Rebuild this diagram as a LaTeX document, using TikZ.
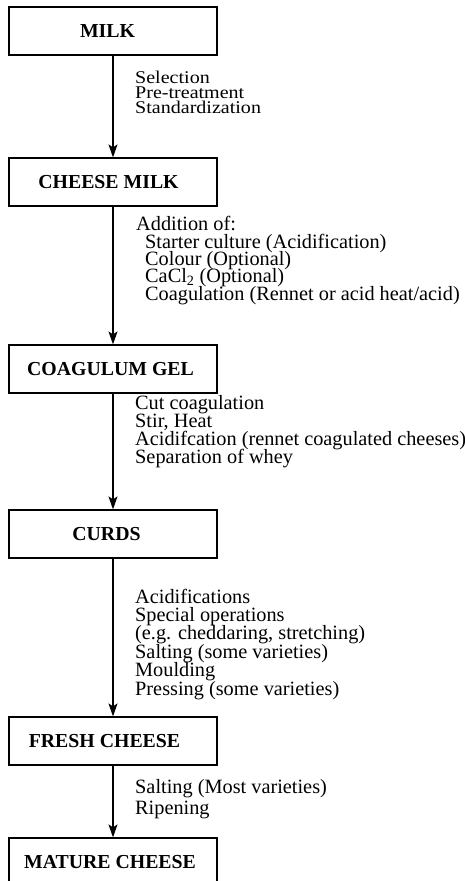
\documentclass[tikz,border=0pt]{standalone}
\usepackage{fontspec}
\setmainfont{Liberation Serif}
\newfontfamily\widefont[FakeStretch=1.12]{Liberation Serif}
\usetikzlibrary{arrows.meta}
\setlength{\lineskiplimit}{-100pt}
\setlength{\lineskip}{0pt}
\begin{document}
\begin{tikzpicture}[x=1pt,y=-1pt,
  stagebox/.style={draw, line width=1.2pt, minimum width=208pt, minimum height=48pt,
    inner sep=0pt, font=\fontsize{19.8}{22}\selectfont\bfseries},
  flow/.style={draw, line width=1.2pt, -{Stealth[length=13pt,width=9pt,inset=3pt]}},
  steps/.style={anchor=base west, align=left, inner sep=0pt,
    font=\fontsize{20.3}{#1}\selectfont}]
\useasboundingbox (0,0) rectangle (465,881);

\node[stagebox] (milk)   at (113,31)  {MILK\hspace*{11pt}};
\node[stagebox] (cmilk)  at (113,182) {CHEESE MILK\hspace*{9pt}};
\node[stagebox] (gel)    at (113,369) {COAGULUM GEL\hspace*{5pt}};
\node[stagebox] (curds)  at (113,534) {CURDS\hspace*{13pt}};
\node[stagebox] (fresh)  at (113,741) {FRESH CHEESE\hspace*{17pt}};
\node[stagebox] (mature) at (113,862) {MATURE CHEESE\hspace*{6pt}};

\draw[flow] (milk) -- (cmilk);
\draw[flow] (cmilk) -- (gel);
\draw[flow] (gel) -- (curds);
\draw[flow] (curds) -- (fresh);
\draw[flow] (fresh) -- (mature);

% anchor base = baseline of the last line
\node[steps=15, font=\widefont\fontsize{17.9}{15}\selectfont] (s1) at (135,113) {Selection\\Pre-treatment\\Standardization};
\node[steps=17.3] (s2) at (136,300) {Addition of:\\
  \hspace*{9pt}Starter culture (Acidification)\\
  \hspace*{9pt}Colour (Optional)\\
  \hspace*{9pt}CaCl\textsubscript{2} (Optional)\\
  \hspace*{9pt}Coagulation (Rennet or acid heat/acid)};
\node[steps=18] (s3) at (135,463) {Cut coagulation\\Stir, Heat\\Acidifcation (rennet coagulated cheeses)\\Separation of whey};
\node[steps=18.4] (s4) at (135,695) {Acidifications\\Special operations\\(e.g. cheddaring, stretching)\\Salting (some varieties)\\Moulding\\Pressing (some varieties)};
\node[steps=21.5] (s5) at (135,814.5) {Salting (Most varieties)\\Ripening};
\end{tikzpicture}
\end{document}
